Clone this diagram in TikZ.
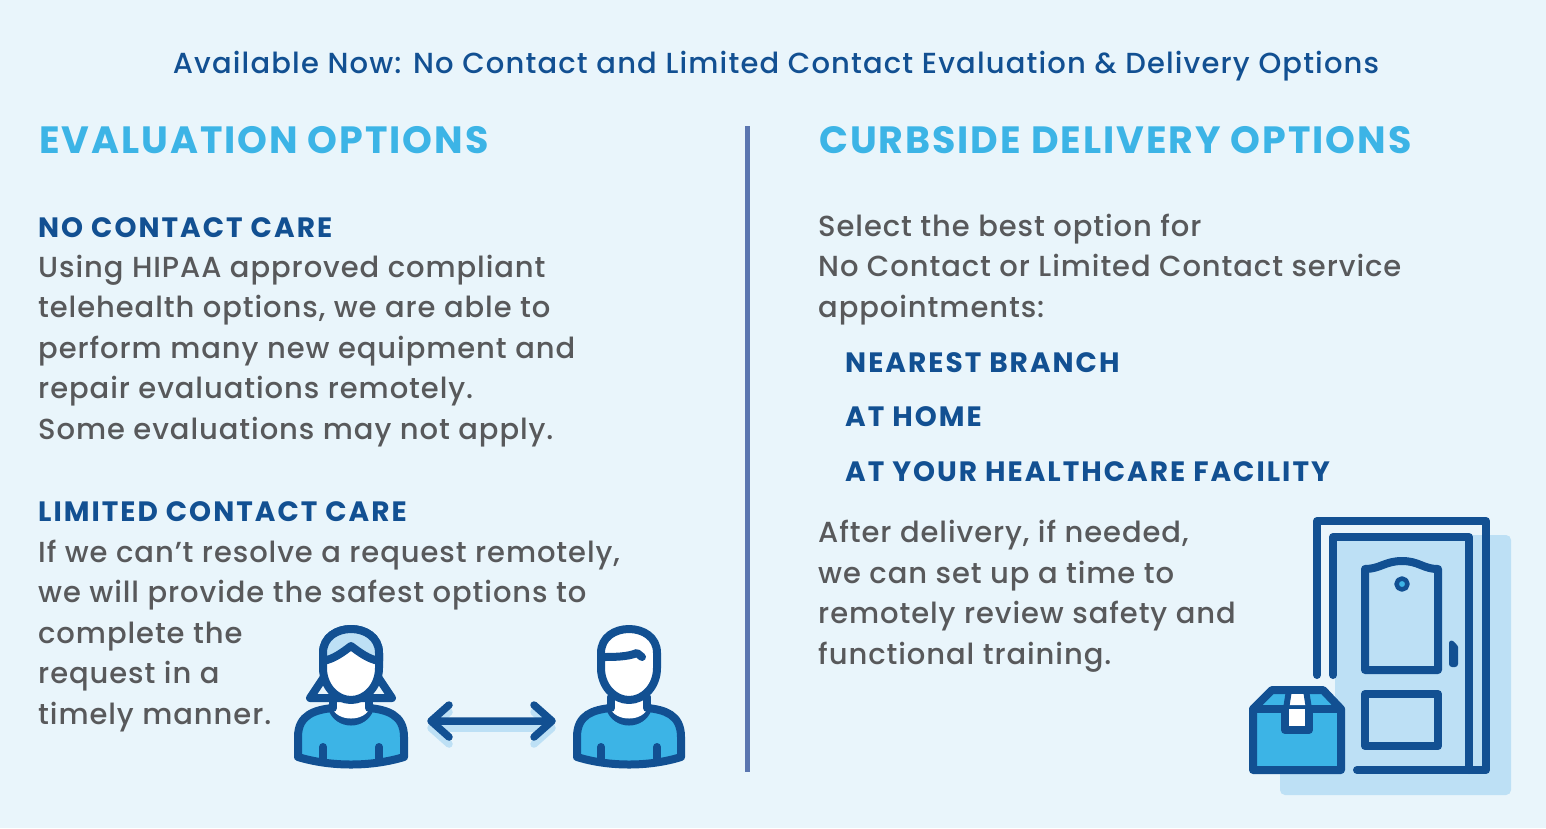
\documentclass[tikz,border=0pt]{standalone}
\usepackage{fontspec}
\setmainfont{Poppins}
\newfontfamily\titlef[LetterSpace=4.0,UprightFont=* Medium]{Poppins}
\newfontfamily\bodyf[LetterSpace=3.2,UprightFont=* Medium]{Poppins}
\newfontfamily\subf[LetterSpace=7.2,UprightFont=* Bold]{Poppins}
\newfontfamily\headf[LetterSpace=5.1,UprightFont=* Bold]{Poppins}
\definecolor{pagebg}{HTML}{E9F5FB}
\definecolor{navy}{HTML}{125092}
\definecolor{sky}{HTML}{3CB4E6}
\definecolor{pale}{HTML}{BDE0F5}
\definecolor{slate}{HTML}{58595B}
\definecolor{divider}{HTML}{5B76B0}
\tikzset{
  x=1pt,y=-1pt,
  txt/.style={anchor=base west,inner sep=0pt,align=left},
  title/.style={txt,font=\titlef\fontsize{29}{34}\selectfont,text=navy},
  head/.style={txt,font=\headf\fontsize{38}{40}\selectfont,text=sky},
  sub/.style={txt,font=\subf\fontsize{28}{40.5}\selectfont,text=navy},
  body/.style={txt,font=\bodyf\fontsize{29}{40.5}\selectfont,text=slate},
  ico/.style={draw=navy,line width=8pt,line join=round,line cap=round},
  arrowline/.style={line width=7.5pt,line join=round,line cap=round},
}
\begin{document}
\begin{tikzpicture}
\useasboundingbox (0,0) rectangle (1546,828);
\fill[pagebg] (0,0) rectangle (1546,828);
\node[title,anchor=base] (t) at (776,73) {Available Now: No Contact and Limited Contact Evaluation \& Delivery Options};
\node[head] (h1) at (39,153) {EVALUATION OPTIONS};
\node[head] (h2) at (819,153) {CURBSIDE DELIVERY OPTIONS};
\coordinate (d1) at (747,126); \coordinate (d2) at (747,772);
\draw[divider,line width=5pt] (d1) -- (d2);
\node[sub] (s1) at (38,237) {NO CONTACT CARE};
\node[body] (b1) at (38,439) {Using HIPAA approved compliant\\telehealth options, we are able to\\perform many new equipment and\\repair evaluations remotely.\\Some evaluations may not apply.};
\node[sub] (s2) at (38,521) {LIMITED CONTACT CARE};
\node[body] (b2) at (38,724) {If we can’t resolve a request remotely,\\we will provide the safest options to\\complete the\\request in a\\timely manner.};
\node[body] (b3) at (818,317) {Select the best option for\\No Contact or Limited Contact service\\appointments:};
\node[sub] (o1) at (845,372) {NEAREST BRANCH};
\node[sub] (o2) at (845,426) {AT HOME};
\node[sub] (o3) at (845,481) {AT YOUR HEALTHCARE FACILITY};
\node[body] (b4) at (818,664) {After delivery, if needed,\\we can set up a time to\\remotely review safety and\\functional training.};
% woman
\begin{scope}[shift={(351,0)}]
\path[ico,fill=sky] (-53,757) -- (-53,737) .. controls (-53,714) and (-35,710) .. (-19,708) .. controls (-13,726) and (13,726) .. (19,708) .. controls (35,710) and (53,714) .. (53,737) -- (53,757) .. controls (20,767) and (-20,767) .. (-53,757) -- cycle;
\path[fill=white] (-19,695) -- (19,695) -- (19,708) .. controls (13,722) and (-13,722) .. (-19,708) -- cycle;
\draw[ico] (-28,747) -- (-28,760) (28,747) -- (28,760);
\path[ico,fill=pagebg] (-27,677) -- (-41,698) -- (41,698) -- (27,677);
\draw[ico] (-18,697) -- (-18,708) (18,697) -- (18,708);
\path[ico,fill=white] (-28,668) -- (-28,653) .. controls (-28,621) and (28,621) .. (28,653) -- (28,668) .. controls (28,686) and (15,700) .. (0,700) .. controls (-15,700) and (-28,686) .. (-28,668) -- cycle;
\path[ico,fill=pale] (-28,661) -- (-28,653) .. controls (-28,621) and (28,621) .. (28,653) -- (28,661) .. controls (17,659) and (8,652) .. (0,646) .. controls (-8,652) and (-17,659) .. (-28,661) -- cycle;
\end{scope}
% man
\begin{scope}[shift={(629,0)}]
\path[ico,fill=sky] (-52,757) -- (-52,737) .. controls (-52,714) and (-35,710) .. (-19,708) .. controls (-13,726) and (13,726) .. (19,708) .. controls (35,710) and (52,714) .. (52,737) -- (52,757) .. controls (20,767) and (-20,767) .. (-52,757) -- cycle;
\path[fill=white] (-19,695) -- (19,695) -- (19,708) .. controls (13,722) and (-13,722) .. (-19,708) -- cycle;
\draw[ico] (-28,747) -- (-28,760) (28,747) -- (28,760);
\draw[ico] (-18,697) -- (-18,708) (18,697) -- (18,708);
\path[ico,fill=white] (-28,668) -- (-28,653) .. controls (-28,621) and (28,621) .. (28,653) -- (28,668) .. controls (28,686) and (15,700) .. (0,700) .. controls (-15,700) and (-28,686) .. (-28,668) -- cycle;
\draw[ico] (-28,657) .. controls (-15,657) and (-2,657) .. (8,653) -- (13,657);
\end{scope}
% double arrow
\coordinate (al) at (431,721); \coordinate (ar) at (552,721);
\draw[pale,arrowline] ([yshift=-7pt]al) -- ([yshift=-7pt]ar)
 ([yshift=-7pt]al) ++(18,-16) -- ++(-18,16) -- ++(18,16)
 ([yshift=-7pt]ar) ++(-18,-16) -- ++(18,16) -- ++(-18,16);
\draw[navy,arrowline] (al) -- (ar)
 (al) ++(18,-16) -- ++(-18,16) -- ++(18,16)
 (ar) ++(-18,-16) -- ++(18,16) -- ++(-18,16);
% door
\path[fill=pale,rounded corners=5pt] (1335,535) -- (1511,535) -- (1511,795) -- (1280,795) -- (1280,720) -- (1335,720) -- cycle;
\draw[ico] (1317,675) -- (1317,521) -- (1486,521) -- (1486,770) -- (1357,770);
\draw[ico] (1333,675) -- (1333,537) -- (1469,537) -- (1469,770);
\path[ico] (1365,569) .. controls (1380,569) and (1385,561) .. (1402,561) .. controls (1419,561) and (1423,569) .. (1438,569) -- (1438,670) -- (1365,670) -- cycle;
\path[ico] (1365,694) rectangle (1438,746);
\path[ico,fill=sky,line width=4.5pt] (1402,584) circle (5.5);
\path[fill=navy,rounded corners=3pt] (1449,640) .. controls (1454,641) and (1458,646) .. (1458,650) -- (1458,667) -- (1449,667) -- cycle;
% box
\path[ico,fill=sky] (1253,770) -- (1253,709) -- (1272,690) -- (1323,690) -- (1341,709) -- (1341,770) -- cycle;
\draw[ico] (1253,709) -- (1341,709);
\path[fill=white] (1291,694) -- (1304,694) -- (1306,705) -- (1288,705) -- cycle;
\draw[ico,line width=6pt] (1289,690) -- (1286,709) (1306,690) -- (1309,709);
\path[ico,fill=white] (1285,709) -- (1285,730) -- (1309,730) -- (1309,709);
\end{tikzpicture}
\end{document}
